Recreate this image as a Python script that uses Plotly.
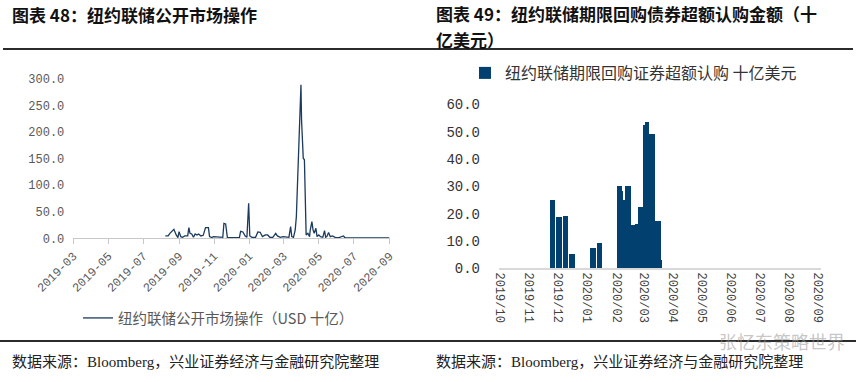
import pandas as pd
import plotly.graph_objects as go

W, H = 856, 382

# ---------------- Left chart: NY Fed open market operations (USD bn) ----------------
omo_dates = [
    "2019-08-08", "2019-08-13", "2019-08-16", "2019-08-21", "2019-08-23", "2019-08-27", "2019-08-30",
    "2019-09-01", "2019-09-04", "2019-09-07", "2019-09-11", "2019-09-16", "2019-09-18", "2019-09-20",
    "2019-09-23", "2019-09-26", "2019-09-29", "2019-10-02", "2019-10-05", "2019-10-09", "2019-10-13",
    "2019-10-17", "2019-10-22", "2019-10-24", "2019-10-28", "2019-10-31", "2019-11-04", "2019-11-09",
    "2019-11-16", "2019-11-18", "2019-11-21", "2019-11-24", "2019-11-29", "2019-12-05", "2019-12-11",
    "2019-12-15", "2019-12-17", "2019-12-21", "2019-12-25", "2019-12-28", "2019-12-31", "2020-01-02",
    "2020-01-06", "2020-01-12", "2020-01-16", "2020-01-20", "2020-01-24", "2020-01-29", "2020-02-02",
    "2020-02-06", "2020-02-11", "2020-02-16", "2020-02-19", "2020-02-24", "2020-02-29", "2020-03-06",
    "2020-03-10", "2020-03-13", "2020-03-15", "2020-03-18", "2020-03-21", "2020-03-23", "2020-03-26",
    "2020-03-28", "2020-03-29", "2020-03-31", "2020-04-01", "2020-04-04", "2020-04-06", "2020-04-08",
    "2020-04-09", "2020-04-12", "2020-04-15", "2020-04-16", "2020-04-19", "2020-04-21", "2020-04-23",
    "2020-04-26", "2020-04-28", "2020-05-01", "2020-05-04", "2020-05-08", "2020-05-11", "2020-05-13",
    "2020-05-15", "2020-05-18", "2020-05-21", "2020-05-25", "2020-05-30", "2020-06-05", "2020-06-13",
    "2020-06-16", "2020-07-01", "2020-07-24", "2020-09-01",
]
omo_values = [
    4.4, 4.4, 9.4, 15.7, 16.9, 6.3, 1.3,
    12.6, 3.1, 1.9, 4.4, 4.4, 20.1, 9.4,
    8.2, 1.9, 8.2, 6.3, 8.2, 4.4, 5.6,
    20.1, 20.1, 3.1, 1.3, 3.1, 3.1, 1.9,
    1.9, 28.2, 27.0, 1.3, 1.3, 1.3, 1.3,
    1.9, 13.2, 11.9, 4.4, 1.9, 65.9, 4.4,
    1.9, 1.9, 11.9, 11.3, 3.1, 6.3, 6.3,
    1.9, 1.9, 9.4, 4.4, 1.9, 3.1, 3.1,
    1.9, 22.0, 3.1, 1.9, 15.7, 40.8, 141.0,
    216.5, 232.0, 288.7, 222.8, 150.6, 147.5, 9.4,
    6.3, 9.4, 3.1, 14.4, 31.4, 15.7, 9.4,
    18.8, 3.1, 6.3, 3.1, 1.9, 14.4, 1.9,
    3.1, 10.7, 3.1, 4.4, 1.3, 1.3, 4.4,
    0.6, 0.6, 0.6, 0.6,
]
omo_name = "纽约联储公开市场操作（USD 十亿）"
left_yticks = [0, 50, 100, 150, 200, 250, 300]

# ---------------- Right chart: term repo oversubscription (USD bn) ----------------
sub_start = [
    "2019-11-23 00:00", "2019-11-29 00:00", "2019-12-06 12:00", "2019-12-12 22:00",
    "2020-01-04 00:00", "2020-01-11 10:00",
    "2020-02-01 12:00", "2020-02-06 12:00", "2020-02-08 05:00", "2020-02-10 07:00",
    "2020-02-16 00:00", "2020-02-20 14:00", "2020-02-21 14:00", "2020-02-23 10:00",
    "2020-02-28 17:00", "2020-03-02 02:00", "2020-03-06 17:00", "2020-03-12 17:00",
    "2020-03-18 17:00",
]
sub_end = [
    "2019-11-28 06:00", "2019-12-05 12:00", "2019-12-11 18:00", "2019-12-19 05:00",
    "2020-01-10 00:00", "2020-01-16 17:00",
    "2020-02-06 12:00", "2020-02-08 05:00", "2020-02-10 07:00", "2020-02-16 00:00",
    "2020-02-20 14:00", "2020-02-21 14:00", "2020-02-23 10:00", "2020-02-28 17:00",
    "2020-03-02 02:00", "2020-03-06 17:00", "2020-03-12 17:00", "2020-03-18 17:00",
    "2020-03-20 00:00",
]
sub_values = [
    25.0, 18.8, 19.1, 5.2,
    7.2, 9.3,
    30.1, 28.3, 24.8, 30.1,
    15.8, 9.1, 16.2, 22.4,
    52.2, 53.5, 49.1, 17.3,
    2.8,
]
sub_name = "纽约联储期限回购证券超额认购 十亿美元"
right_yticks = [0, 10, 20, 30, 40, 50, 60]

# ---------------- Texts ----------------
title_left = "图表 48：纽约联储公开市场操作"
title_right_1 = "图表 49：纽约联储期限回购债券超额认购金额（十"
title_right_2 = "亿美元）"
source_text = "数据来源：Bloomberg，兴业证券经济与金融研究院整理"
watermark = "张忆东策略世界"

CJK = "Noto Sans CJK SC"
MONO = "Liberation Mono, " + CJK
LINE_COLOR = "#1b3a5e"
BAR_COLOR = "#02406f"
RULE_COLOR = "#2b2b2b"


def px_x(p):
    return p / W


def px_y(p):
    return 1 - p / H


s = pd.to_datetime(pd.Series(sub_start))
e = pd.to_datetime(pd.Series(sub_end))
bar_centers = s + (e - s) / 2
bar_widths = (e - s).dt.total_seconds() * 1000

fig = go.Figure()

fig.add_trace(go.Scatter(
    x=omo_dates, y=omo_values, mode="lines", name=omo_name,
    line=dict(color=LINE_COLOR, width=1.3),
    xaxis="x", yaxis="y", legend="legend",
))

fig.add_trace(go.Bar(
    x=bar_centers, y=sub_values, width=bar_widths, name=sub_name,
    marker=dict(color=BAR_COLOR, line=dict(width=0)),
    xaxis="x2", yaxis="y2", legend="legend2",
))

# empty helper subplots whose axis lines act as the page rules
for xa, ya in (("x3", "y3"), ("x4", "y4")):
    fig.add_trace(go.Scatter(x=[None], y=[None], mode="lines", xaxis=xa, yaxis=ya,
                             showlegend=False, hoverinfo="skip"))

rule_axis = dict(showline=True, linecolor=RULE_COLOR, linewidth=1.5, ticks="",
                 showticklabels=False, showgrid=False, zeroline=False,
                 automargin=False, fixedrange=True, range=[0, 1])
rule_yaxis = dict(visible=False, showgrid=False, zeroline=False, automargin=False,
                  fixedrange=True, range=[0, 1])

annos = [
    dict(text="<b>" + title_left + "</b>", x=px_x(10), y=px_y(15), xref="paper", yref="paper",
         xanchor="left", yanchor="middle", showarrow=False,
         font=dict(family=CJK, size=17, color="#111111")),
    dict(text="<b>" + title_right_1 + "</b>", x=px_x(434), y=px_y(14), xref="paper", yref="paper",
         xanchor="left", yanchor="middle", showarrow=False,
         font=dict(family=CJK, size=17, color="#111111")),
    dict(text="<b>" + title_right_2 + "</b>", x=px_x(434), y=px_y(39), xref="paper", yref="paper",
         xanchor="left", yanchor="middle", showarrow=False,
         font=dict(family=CJK, size=17, color="#111111")),
    dict(text=watermark, x=px_x(717), y=px_y(341), xref="paper", yref="paper",
         xanchor="left", yanchor="middle", showarrow=False,
         font=dict(family=CJK, size=18, color="rgba(150,150,150,0.55)")),
]
for sx in (10, 434):
    annos.append(dict(
        text=source_text, x=px_x(sx), y=px_y(361), xref="paper", yref="paper",
        xanchor="left", yanchor="middle", showarrow=False,
        font=dict(family="Liberation Serif, " + CJK, size=15, color="#222222"),
    ))

fig.update_layout(
    width=W, height=H,
    margin=dict(l=0, r=0, t=0, b=0, autoexpand=False),
    paper_bgcolor="white", plot_bgcolor="rgba(0,0,0,0)",
    showlegend=True,
    font=dict(family=CJK, color="#595959"),
    xaxis=dict(
        domain=[px_x(73.3), px_x(389.5)],
        type="date",
        range=["2019-03-01", "2020-09-01"],
        tick0="2019-03-01", dtick="M2", tickformat="%Y-%m",
        tickangle=-45,
        ticks="outside", ticklen=5, tickcolor="#c8c8c8", tickwidth=1,
        showline=True, linecolor="#c8c8c8", linewidth=1,
        showgrid=False, zeroline=False, automargin=False,
        tickfont=dict(family=MONO, size=12, color="#595959"),
        anchor="y",
    ),
    yaxis=dict(
        domain=[px_y(238.3), px_y(78.7)],
        range=[0, 300],
        tickvals=left_yticks, tickformat=".1f",
        showline=False, showgrid=False, zeroline=False, automargin=False,
        tickfont=dict(family=MONO, size=12, color="#595959"),
        ticklabelstandoff=8,
        anchor="x",
    ),
    xaxis2=dict(
        domain=[px_x(499), px_x(821)],
        type="date",
        range=["2019-09-30", "2020-09-04"],
        tick0="2019-10-01", dtick="M1", tickformat="%Y/%m",
        tickangle=90,
        ticks="",
        showline=True, linecolor="#d9d9d9", linewidth=1.5,
        showgrid=False, zeroline=False, automargin=False,
        tickfont=dict(family=MONO, size=12, color="#404040"),
        anchor="y2",
    ),
    yaxis2=dict(
        domain=[px_y(268.3), px_y(104.3)],
        range=[0, 60],
        tickvals=right_yticks, tickformat=".1f",
        showline=False, showgrid=False, zeroline=False, automargin=False,
        tickfont=dict(family=MONO, size=14, color="#333333"),
        ticklabelstandoff=18,
        anchor="x2",
    ),
    xaxis3=dict(domain=[px_x(3), px_x(853)], anchor="y3", **rule_axis),
    yaxis3=dict(domain=[px_y(48), px_y(44)], anchor="x3", **rule_yaxis),
    xaxis4=dict(domain=[px_x(0), px_x(856)], anchor="y4", **rule_axis),
    yaxis4=dict(domain=[px_y(340), px_y(336)], anchor="x4", **rule_yaxis),
    legend=dict(
        x=px_x(78), y=px_y(318), xanchor="left", yanchor="middle",
        font=dict(family=CJK, size=14.5, color="#595959"),
        bgcolor="rgba(0,0,0,0)", itemwidth=30,
    ),
    legend2=dict(
        x=px_x(465), y=px_y(73), xanchor="left", yanchor="middle",
        font=dict(family=CJK, size=16, color="#333333"),
        bgcolor="rgba(0,0,0,0)", itemwidth=30,
    ),
    bargap=0,
    annotations=annos,
)

fig.write_html(
    "out.html",
    config={"displayModeBar": False},
    post_script="document.body.style.margin='0';document.body.style.overflow='hidden';",
)
